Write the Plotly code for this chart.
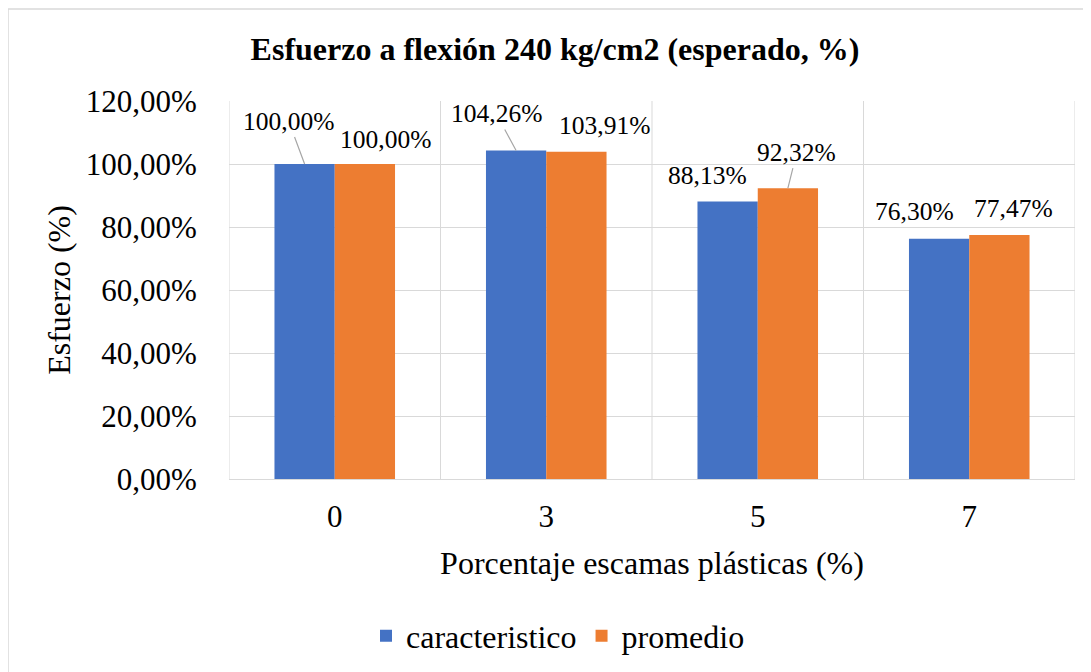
import plotly.graph_objects as go

categories = ["0", "3", "5", "7"]
caracteristico = [1.0000, 1.0426, 0.8813, 0.7630]
promedio = [1.0000, 1.0391, 0.9232, 0.7747]
series_names = ["caracteristico", "promedio"]
y_ticks = [0, 0.2, 0.4, 0.6, 0.8, 1.0, 1.2]

BLUE = "#4472C4"
ORANGE = "#ED7D31"
GRID = "#D9D9D9"
FONT = "Times New Roman, Liberation Serif, serif"

OFF = 8  # page body margin offset
W, H = 1091, 672
L, T = 229 - OFF, 101 - OFF
R = W - (1075 - OFF)
B = H - (479 - OFF)
BARGAP = 0.43

fig = go.Figure()
fig.add_trace(go.Bar(x=categories, y=caracteristico, name=series_names[0],
                     marker=dict(color=BLUE, line=dict(width=0))))
fig.add_trace(go.Bar(x=categories, y=promedio, name=series_names[1],
                     marker=dict(color=ORANGE, line=dict(width=0))))

label_offsets = {
    0: [(-16, -43, True), (-20, -37, True), (-20, -26, False), (-25, -27, False)],
    1: [(21, -25, False), (28, -26, False), (9, -36, True), (14, -26, False)],
}
half = (1 - BARGAP) / 4
for s, vals in enumerate([caracteristico, promedio]):
    off = -half if s == 0 else half
    for i, v in enumerate(vals):
        ax, ay, leader = label_offsets[s][i]
        fig.add_annotation(
            x=i + off, y=v, xref="x", yref="y",
            text=f"{v*100:.2f}%".replace(".", ","),
            showarrow=True, arrowhead=0, arrowwidth=1.2,
            arrowcolor="#A6A6A6" if leader else "rgba(0,0,0,0)",
            ax=ax, ay=ay, standoff=0, startstandoff=0,
            font=dict(family=FONT, size=25.5, color="#000000"),
        )

shapes = []
for k in range(len(categories) + 1):
    shapes.append(dict(type="line", xref="x", yref="paper", x0=k - 0.5, x1=k - 0.5,
                       y0=0, y1=1, line=dict(color=GRID, width=1), layer="below"))
px = lambda p: (p - OFF - L) / (W - L - R)
py = lambda p: (H - B - (p - OFF)) / (H - T - B)
shapes.append(dict(type="line", xref="paper", yref="paper", x0=px(8), x1=px(1110),
                   y0=py(9), y1=py(9), line=dict(color=GRID, width=1.5)))
shapes.append(dict(type="line", xref="paper", yref="paper", x0=px(8), x1=px(8),
                   y0=py(9), y1=py(700), line=dict(color=GRID, width=1.5)))

fig.update_layout(
    width=W, height=H,
    margin=dict(l=L, r=R, t=T, b=B, autoexpand=False),
    paper_bgcolor="white", plot_bgcolor="white",
    separators=",.",
    barmode="group", bargap=BARGAP, bargroupgap=0,
    font=dict(family=FONT, color="#000000"),
    title=dict(text="<b>Esfuerzo a flexión 240 kg/cm2 (esperado, %)</b>",
               x=(555 - OFF) / W, xanchor="center", y=1 - (49 - OFF) / H, yanchor="middle",
               xref="container", yref="container",
               font=dict(family=FONT, size=32, color="#000000")),
    xaxis=dict(type="category", showgrid=False, showline=True, linecolor=GRID, linewidth=1,
               ticks="outside", ticklen=10, tickcolor="rgba(0,0,0,0)",
               tickfont=dict(family=FONT, size=31, color="#000000"),
               title=dict(text="Porcentaje escamas plásticas (%)", standoff=18,
                          font=dict(family=FONT, size=32, color="#000000")),
               range=[-0.5, 3.5], fixedrange=True),
    yaxis=dict(range=[0, 1.2], tickvals=y_ticks, tickformat=".2%",
               showgrid=True, gridcolor=GRID, gridwidth=1, zeroline=False,
               showline=False, ticks="outside", ticklen=25, tickcolor="rgba(0,0,0,0)",
               tickfont=dict(family=FONT, size=31, color="#000000"),
               title=dict(text="Esfuerzo (%)", standoff=5,
                          font=dict(family=FONT, size=32, color="#000000"))),
    legend=dict(orientation="h", x=px(558), xanchor="center", y=py(636), yanchor="middle",
                font=dict(family=FONT, size=32, color="#000000"),
                itemsizing="constant", traceorder="normal"),
    shapes=shapes,
    showlegend=True,
)

fig.write_html("out.html")
